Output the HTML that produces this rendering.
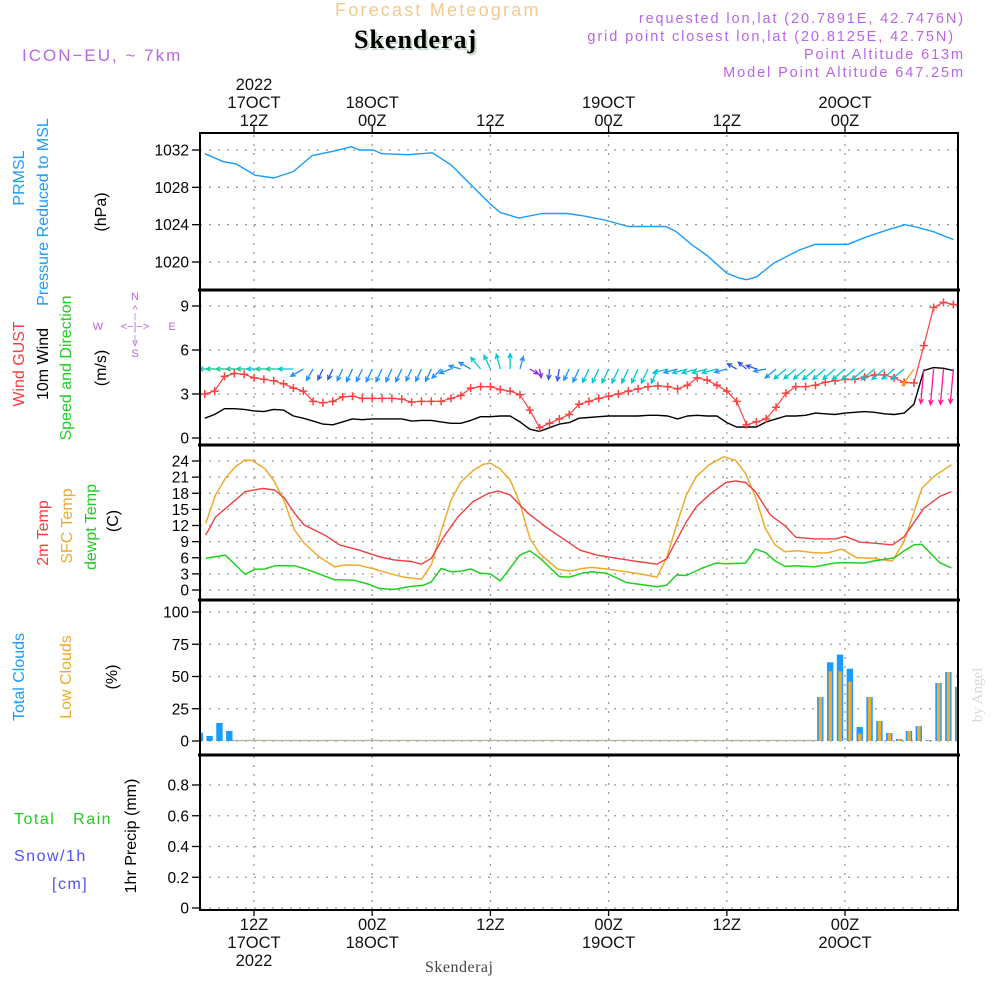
<!DOCTYPE html>
<html><head><meta charset="utf-8"><title>Meteogram Skenderaj</title>
<style>
html,body{margin:0;padding:0;background:#fff;width:1000px;height:1000px;overflow:hidden}
svg{display:block}
text{font-family:"Liberation Sans","DejaVu Sans",sans-serif}
</style></head>
<body>
<svg id="chart" width="1000" height="1000" viewBox="0 0 1000 1000" xmlns="http://www.w3.org/2000/svg">
<defs><clipPath id="plotclip"><rect x="200" y="133" width="758" height="777"/></clipPath></defs>
<g id="header">
<text x="335" y="16" font-size="18" fill="#f2c98f" letter-spacing="2.2">Forecast Meteogram</text>
<text x="356" y="50" font-size="26" font-weight="bold" fill="#c8d8c8" style="font-family:'Liberation Serif',serif" letter-spacing="1">Skenderaj</text>
<text x="354" y="48" font-size="26" font-weight="bold" fill="#000" style="font-family:'Liberation Serif',serif" letter-spacing="1">Skenderaj</text>
<text x="22" y="61" font-size="17" fill="#b866e8" letter-spacing="2">ICON−EU, ~ 7km</text>
<text x="965" y="23" font-size="14.5" fill="#b866e8" text-anchor="end" letter-spacing="1.9">requested lon,lat (20.7891E, 42.7476N)</text>
<text x="955" y="41" font-size="14.5" fill="#b866e8" text-anchor="end" letter-spacing="1.9">grid point closest lon,lat (20.8125E, 42.75N)</text>
<text x="965" y="59" font-size="14.5" fill="#b866e8" text-anchor="end" letter-spacing="1.9">Point Altitude 613m</text>
<text x="965" y="77" font-size="14.5" fill="#b866e8" text-anchor="end" letter-spacing="1.9">Model Point Altitude 647.25m</text>
</g>
<g id="leftlabels" font-size="16">
<text transform="translate(24,178) rotate(-90)" text-anchor="middle" fill="#1a9cff">PRMSL</text>
<text transform="translate(48,212) rotate(-90)" text-anchor="middle" fill="#1a9cff">Pressure Reduced to MSL</text>
<text transform="translate(106,212) rotate(-90)" text-anchor="middle" fill="#000">(hPa)</text>
<text transform="translate(24,364) rotate(-90)" text-anchor="middle" fill="#ff3a3a">Wind GUST</text>
<text transform="translate(48,364) rotate(-90)" text-anchor="middle" fill="#000">10m Wind</text>
<text transform="translate(71,368) rotate(-90)" text-anchor="middle" fill="#22cc22">Speed and Direction</text>
<text transform="translate(106,368) rotate(-90)" text-anchor="middle" fill="#000">(m/s)</text>
<text transform="translate(48,533) rotate(-90)" text-anchor="middle" fill="#ff3a3a">2m Temp</text>
<text transform="translate(72,526) rotate(-90)" text-anchor="middle" fill="#f0aa30">SFC Temp</text>
<text transform="translate(96,527) rotate(-90)" text-anchor="middle" fill="#22cc22">dewpt Temp</text>
<text transform="translate(118,521) rotate(-90)" text-anchor="middle" fill="#000">(C)</text>
<text transform="translate(24,677) rotate(-90)" text-anchor="middle" fill="#1a9cff">Total Clouds</text>
<text transform="translate(71,677) rotate(-90)" text-anchor="middle" fill="#f0aa30">Low Clouds</text>
<text transform="translate(117,677) rotate(-90)" text-anchor="middle" fill="#000">(%)</text>
<text transform="translate(136,836) rotate(-90)" text-anchor="middle" fill="#000">1hr Precip (mm)</text>
<text x="14" y="824" fill="#22cc22" letter-spacing="1.5" xml:space="preserve">Total   Rain</text>
<text x="14" y="861" fill="#5050ff" letter-spacing="1.5">Snow/1h</text>
<text x="52" y="889" fill="#5050ff" letter-spacing="1.5">[cm]</text>
</g>
<g id="compass" font-size="11" fill="#b866e8" text-anchor="middle">
<text x="135" y="300">N</text>
<text x="135" y="313">^</text>
<text x="135" y="319" font-size="8">|</text>
<text x="98" y="330">W</text>
<text x="135" y="330">&lt;−|−&gt;</text>
<text x="172" y="330">E</text>
<text x="135" y="341" font-size="8">|</text>
<text x="135" y="346">v</text>
<text x="135" y="357">S</text>
</g>
<text transform="translate(982,695) rotate(-90)" text-anchor="middle" font-size="15" fill="#d8d8d8" style="font-family:'Liberation Serif',serif">by Angel</text>
<text x="425" y="972" font-size="16" fill="#444" style="font-family:'Liberation Serif',serif" letter-spacing="0.5">Skenderaj</text>
<g id="grid"></g>
<g id="marks" clip-path="url(#plotclip)"></g>
<g id="axes"></g>
</svg>
<script>
// ---- data ----
const timeTicks = [0, 12, 24, 36, 48, 60]; // hours since 17OCT 12Z
const topTimeLabels = [["2022","17OCT","12Z"],["","18OCT","00Z"],["","","12Z"],["","19OCT","00Z"],["","","12Z"],["","20OCT","00Z"]];
const bottomTimeLabels = [["12Z","17OCT","2022"],["00Z","18OCT",""],["12Z","",""],["00Z","19OCT",""],["12Z","",""],["00Z","20OCT",""]];
const pressTicks = [1020, 1024, 1028, 1032];
const windTicks = [0, 3, 6, 9];
const tempTicks = [0, 3, 6, 9, 12, 15, 18, 21, 24];
const cloudTicks = [0, 25, 50, 75, 100];
const precipTicks = [0, 0.2, 0.4, 0.6, 0.8];
const precipTickLabels = ["0", "0.2", "0.4", "0.6", "0.8"];
// hour index h (0 = 17OCT 07Z)
const pressHours = [0,1.9,3.2,5.1,7.0,9.0,10.9,13.2,14.9,15.7,17.1,18.0,20.6,23.1,25.0,26.9,29.1,30.0,31.9,34.2,36.8,38.4,40.6,43.0,44.6,46.8,47.8,49.4,51.0,53.0,54.2,55.0,56.0,57.8,59.1,60.4,62.0,65.3,67.2,69.5,71.1,72.4,74.1,76.0];
const pressVals = [1031.6,1030.75,1030.5,1029.3,1029.0,1029.7,1031.4,1031.9,1032.35,1032.0,1032.0,1031.6,1031.5,1031.7,1030.4,1028.4,1026.1,1025.3,1024.7,1025.2,1025.2,1024.95,1024.5,1023.8,1023.8,1023.8,1023.3,1021.9,1020.7,1018.8,1018.3,1018.1,1018.4,1019.9,1020.6,1021.3,1021.9,1021.9,1022.7,1023.5,1024.0,1023.7,1023.2,1022.4];
const gustVals = [3.0,3.2,4.2,4.4,4.35,4.1,4.0,3.9,3.7,3.4,3.2,2.5,2.4,2.5,2.8,2.85,2.7,2.7,2.7,2.7,2.65,2.45,2.5,2.5,2.5,2.7,2.9,3.4,3.5,3.5,3.3,3.2,2.95,1.9,0.7,1.0,1.3,1.6,2.3,2.5,2.7,2.85,3.0,3.2,3.35,3.5,3.55,3.5,3.35,3.6,4.1,3.95,3.6,3.2,2.5,0.9,1.1,1.3,2.1,3.05,3.5,3.5,3.6,3.8,3.9,4.0,4.0,4.15,4.3,4.3,4.1,3.8,3.75,6.3,8.9,9.25,9.1];
const windVals = [1.35,1.6,2.0,2.0,1.95,1.85,1.8,1.95,1.9,1.5,1.35,1.15,0.95,0.9,1.1,1.3,1.25,1.3,1.3,1.3,1.3,1.15,1.2,1.2,1.1,1.0,1.0,1.2,1.45,1.45,1.5,1.5,1.1,0.6,0.45,0.7,0.95,1.05,1.35,1.4,1.45,1.5,1.5,1.5,1.5,1.55,1.55,1.5,1.3,1.5,1.55,1.5,1.5,1.05,0.75,0.75,0.75,1.1,1.3,1.5,1.5,1.55,1.7,1.65,1.6,1.7,1.75,1.8,1.75,1.65,1.6,1.7,2.3,4.6,4.8,4.75,4.6];
const windDirs = [270,270,270,270,270,270,270,270,270,270,240,210,205,205,205,205,205,205,205,205,205,205,205,205,225,250,285,300,320,335,345,0,15,120,170,185,190,205,205,205,205,205,205,205,205,205,205,255,255,255,255,255,255,255,300,310,290,260,230,230,230,230,230,230,230,230,230,230,230,230,230,230,215,185,185,185,185];
const t2Hours = [0.1,1.1,3.1,4.1,5.9,7.1,8.1,9.1,10.1,12.2,13.7,15.7,17.7,19.2,21.0,22.0,23.0,24.2,25.7,27.2,28.8,29.8,31.0,32.8,34.8,36.8,38.1,39.8,41.8,43.9,45.9,46.9,48.9,49.9,51.4,52.9,53.9,54.9,55.9,57.4,59.0,60.0,62.0,64.0,65.0,66.5,68.0,69.8,71.0,73.0,74.6,75.8];
const t2Vals = [10.2,13.6,16.7,18.3,18.9,18.6,17.1,14.3,12.1,10.2,8.4,7.4,6.2,5.6,5.3,4.8,5.9,9.7,13.6,16.4,18.0,18.4,17.7,14.3,11.5,9.0,7.4,6.5,5.9,5.3,4.8,5.8,12.7,15.5,18.0,20.0,20.3,20.0,18.3,14.0,11.8,9.8,9.5,9.5,10.0,8.9,8.7,8.4,9.9,15.2,17.4,18.3];
const sfcHours = [0.1,1.1,2.1,3.1,4.1,4.8,6.1,7.1,8.1,9.1,10.1,11.6,13.2,14.2,15.7,17.2,18.7,20.2,22.0,23.0,24.0,25.0,26.0,27.3,28.3,29.0,30.0,31.0,32.0,33.0,34.0,35.8,37.1,38.3,39.3,40.8,42.8,44.8,45.9,46.9,47.9,48.9,49.9,51.2,52.7,53.9,54.9,55.9,56.9,57.9,58.9,60.2,62.0,63.2,64.7,66.2,67.7,69.8,71.0,72.8,74.0,75.8];
const sfcVals = [12.4,17.7,20.8,22.9,24.2,24.1,22.6,20.1,16.4,11.2,8.7,6.2,4.3,4.65,4.6,3.9,3.1,2.4,2.0,4.65,10.9,16.7,20.1,22.3,23.4,23.6,22.5,20.5,16.1,9.6,6.8,3.9,3.5,4.0,4.2,3.9,3.4,2.8,2.4,6.0,12.1,17.7,21.1,23.3,24.8,24.1,21.7,17.4,11.5,8.4,7.1,7.3,6.9,6.9,7.6,6.0,5.9,5.4,9.0,18.9,21.1,23.3];
const dewHours = [0.1,2.1,4.1,5.1,6.1,7.1,9.1,10.1,11.6,13.2,15.2,16.7,17.7,19.2,20.7,22.2,23.0,24.0,25.0,26.0,27.0,28.0,29.0,30.0,32.0,33.0,34.0,36.0,37.0,38.3,39.3,40.8,42.8,44.8,45.9,46.9,47.9,48.9,50.4,51.9,52.9,54.9,55.9,56.9,57.9,58.9,59.9,61.9,63.9,64.9,66.9,67.9,70.0,71.0,72.0,72.8,74.6,75.8];
const dewVals = [5.9,6.5,2.9,3.85,3.9,4.5,4.5,4.0,3.0,1.9,1.8,1.05,0.3,0.1,0.6,0.9,1.5,4.0,3.4,3.5,3.9,3.1,3.0,1.7,6.5,7.3,6.0,2.5,2.4,3.1,3.4,3.1,1.4,0.9,0.6,0.9,2.8,2.7,4.0,5.0,4.9,5.0,7.6,7.0,5.4,4.4,4.5,4.3,5.0,5.1,5.0,5.4,6.0,7.3,8.4,8.5,5.1,4.1];
const totalCloud = [6.4,3.9,14,7.8,0,0,0,0,0,0,0,0,0,0,0,0,0,0,0,0,0,0,0,0,0,0,0,0,0,0,0,0,0,0,0,0,0,0,0,0,0,0,0,0,0,0,0,0,0,0,0,0,0,0,0,0,0,0,0,0,0,0,0,34,61,67,56,10.8,34,15.5,6.2,1.5,7.8,11.6,0.8,45,53.5,42];
const lowCloud = [0,0,0,0,0,0,0,0,0,0,0,0,0,0,0,0,0,0,0,0,0,0,0,0,0,0,0,0,0,0,0,0,0,0,0,0,0,0,0,0,0,0,0,0,0,0,0,0,0,0,0,0,0,0,0,0,0,0,0,0,0,0,0,34,54,54,46,5.7,34,15.5,6,1.5,7.8,11.6,0.8,45,53.5,42];
const precipVals = [];

// ---- scales ----
const NS = "http://www.w3.org/2000/svg";
const X0 = 200, X1 = 958;
function xh(h){ return 204.75 + 9.85*h; }
function xt(t){ return 254 + 9.85*t; }
function yP(v){ return 150 + (1032 - v)*9.333; }
function yW(v){ return 438 - v*14.667; }
function yT(v){ return 590 - v*5.375; }
function yC(v){ return 741 - v*1.29; }
function yR(v){ return 908 - v*153.75; }
const gridG = document.getElementById('grid');
const marks = document.getElementById('marks');
const axes = document.getElementById('axes');
function mk(tag, attrs, parent){
  const e = document.createElementNS(NS, tag);
  for (const k in attrs) e.setAttribute(k, attrs[k]);
  parent.appendChild(e); return e;
}
const panels = [
  {ticks: pressTicks, f: yP, labels: pressTicks.map(String), name:'pressure'},
  {ticks: windTicks, f: yW, labels: windTicks.map(String), name:'wind'},
  {ticks: tempTicks, f: yT, labels: tempTicks.map(String), name:'temp'},
  {ticks: cloudTicks, f: yC, labels: cloudTicks.map(String), name:'cloud'},
  {ticks: precipTicks, f: yR, labels: precipTickLabels, name:'precip'}
];
panels.forEach(p => {
  p.ticks.forEach((v, i) => {
    const y = p.f(v);
    const gl = mk('line', {x1:X0, x2:X1, y1:y, y2:y, stroke:'#9a9a9a', 'stroke-width':1.3, 'stroke-dasharray':'2,7'}, gridG);
    
    
    mk('line', {x1:192, x2:200, y1:y, y2:y, stroke:'#000', 'stroke-width':1.3}, axes);
    const tx = mk('text', {x:189, y:y+5.5, 'text-anchor':'end', 'font-size':15.5, fill:'#000'}, axes);
    tx.textContent = p.labels[i];
    
    
  });
});
timeTicks.forEach((t, i) => {
  const x = xt(t);
  const vl = mk('line', {x1:x, x2:x, y1:135, y2:908, stroke:'#9a9a9a', 'stroke-width':1.3, 'stroke-dasharray':'2,7'}, gridG);
  
  
  mk('line', {x1:x, x2:x, y1:126, y2:133, stroke:'#000', 'stroke-width':1.3}, axes);
  mk('line', {x1:x, x2:x, y1:910, y2:916, stroke:'#000', 'stroke-width':1.3}, axes);
  const tl = topTimeLabels[i];
  [90, 108, 126].forEach((yy, k) => {
    if (!tl[k]) return;
    const e = mk('text', {x:x, y:yy, 'text-anchor':'middle', 'font-size':16.5, fill:'#111'}, axes);
    e.textContent = tl[k];
    
    
  });
  const bl = bottomTimeLabels[i];
  [930, 948, 966].forEach((yy, k) => {
    if (!bl[k]) return;
    const e = mk('text', {x:x, y:yy, 'text-anchor':'middle', 'font-size':16.5, fill:'#111'}, axes);
    e.textContent = bl[k];
    
    
  });
});
const frame = mk('rect', {x:200, y:133, width:758, height:777, fill:'none', stroke:'#000', 'stroke-width':2}, axes);


[290, 445, 600, 755].forEach(y => {
  const s = mk('line', {x1:198, x2:960, y1:y, y2:y, stroke:'#000', 'stroke-width':3}, axes);
  
  
});
function poly(hours, vals, fy, color, name, w){
  const pts = hours.map((h, i) => xh(h).toFixed(1) + ',' + fy(vals[i]).toFixed(1)).join(' ');
  const e = mk('polyline', {points:pts, fill:'none', stroke:color, 'stroke-width':w || 1.4, 'stroke-linejoin':'round'}, marks);
  
  
  return e;
}
const hourIdx = gustVals.map((_, i) => i);
poly(pressHours, pressVals, yP, '#1a9cff', 'pressure-line', 1.4);
poly(hourIdx, windVals, yW, '#000', 'wind-speed-line', 1.4);
poly(hourIdx, gustVals, yW, '#ff4040', 'wind-gust-line', 1.2);
gustVals.forEach((v, i) => {
  const x = xh(i), y = yW(v);
  const g = mk('path', {d:`M${x-4},${y}H${x+4}M${x},${y-4}V${y+4}`, stroke:'#ff4040', 'stroke-width':1.5}, marks);
  
  
});
function arrowColor(s){
  if (s > 4) return '#ff1493';
  if (s > 2.2) return '#f0a020';
  if (s < 0.7) return '#8a2be2';
  if (s < 1.0) return '#3355ee';
  if (s < 1.4) return '#1e90ff';
  if (s < 1.85) return '#00c8d0';
  return '#20c890';
}
windDirs.forEach((d, i) => {
  const s = windVals[i];
  const len = 6 + 6.2*s;
  const r = d*Math.PI/180;
  const x0 = xh(i), y0 = 369;
  const x1 = x0 + Math.sin(r)*len, y1 = y0 - Math.cos(r)*len;
  const a1 = r + Math.PI - 0.45, a2 = r + Math.PI + 0.45;
  const hl = 5;
  const c = arrowColor(s);
  const d1 = `M${x0.toFixed(1)},${y0}L${x1.toFixed(1)},${y1.toFixed(1)}M${(x1+Math.sin(a1)*hl).toFixed(1)},${(y1-Math.cos(a1)*hl).toFixed(1)}L${x1.toFixed(1)},${y1.toFixed(1)}L${(x1+Math.sin(a2)*hl).toFixed(1)},${(y1-Math.cos(a2)*hl).toFixed(1)}`;
  const e = mk('path', {d:d1, stroke:c, 'stroke-width':1.3, fill:'none'}, marks);
  
  
});
poly(sfcHours, sfcVals, yT, '#f0aa30', 'sfc-temp-line', 1.5);
poly(t2Hours, t2Vals, yT, '#f04040', '2m-temp-line', 1.4);
poly(dewHours, dewVals, yT, '#20d020', 'dewpoint-line', 1.5);
const zl = mk('line', {x1:230, x2:820, y1:740.5, y2:740.5, stroke:'#b8b0a0', 'stroke-width':1.2}, marks);


totalCloud.forEach((v, h) => {
  const cx = xh(h) - 5;
  if (v > 0) {
    const b = mk('rect', {x:cx-3.2, y:yC(v), width:6.4, height:741-yC(v), fill:'#1a9cff'}, marks);
    
    
  }
  const lv = lowCloud[h];
  if (lv > 0) {
    const b2 = mk('rect', {x:cx-1.6, y:yC(lv), width:3.4, height:741-yC(lv), fill:'#f0aa30'}, marks);
    
    
  }
});
precipVals.forEach((v, h) => {
  const b = mk('rect', {x:xh(h)-3, y:yR(v), width:6, height:908-yR(v), fill:'#22cc22'}, marks);
  
  
});
</script>
</body></html>
